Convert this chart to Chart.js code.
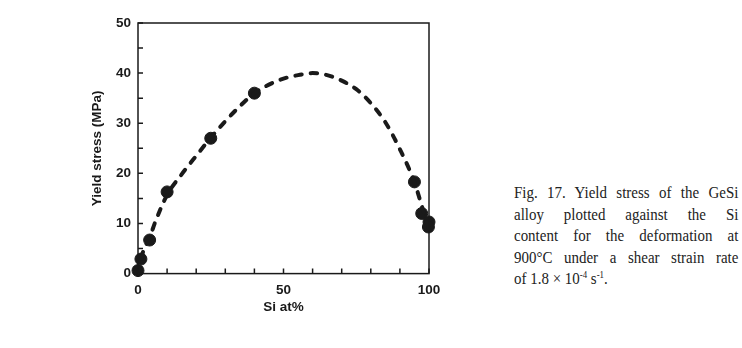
<!DOCTYPE html>
<html>
<head>
<meta charset="utf-8">
<script src="https://cdn.jsdelivr.net/npm/chart.js@4"></script>
<style>
  html, body { margin: 0; padding: 0; background: #fff; }
  #wrap { position: relative; width: 742px; height: 348px; overflow: hidden; }
  #chartBox { position: absolute; left: 0; top: 0; width: 480px; height: 348px; }
  #caption {
    position: absolute; left: 514px; top: 182px; width: 255px;
    transform: scaleX(0.88); transform-origin: left top;
    font-family: "Liberation Serif", "Times New Roman", serif;
    font-size: 17px; line-height: 21.5px; color: #222;
  }
  #caption div { text-align: justify; text-align-last: justify; }
  #caption div.last { text-align-last: left; }
  #caption sup { font-size: 10px; line-height: 0; vertical-align: 6px; }
</style>
</head>
<body>
<div id="wrap">
  <div id="chartBox"><canvas id="yieldChart" width="480" height="348"></canvas></div>
  <div id="caption">
    <div>Fig. 17. Yield stress of the GeSi</div>
    <div>alloy plotted against the Si</div>
    <div>content for the deformation at</div>
    <div>900°C under a shear strain rate</div>
    <div class="last">of 1.8 × 10<sup>-4</sup> s<sup>-1</sup>.</div>
  </div>
</div>
<script>
// data titik ukur (Si at%, MPa)
const siContent = [0, 1, 4, 10, 25, 40, 95, 97.5, 100, 99.8];
const yieldStress = [0.6, 2.9, 6.7, 16.3, 27, 36, 18.3, 12, 10.3, 9.3];

// kurva putus-putus
const curveX = [0, 1.5, 4, 6, 10, 15, 20, 25, 30, 35, 40, 45, 50, 55, 60, 65, 70, 75, 80, 85, 90, 95, 98, 100];
const curveY = [0, 3.9, 7.2, 10.4, 15.7, 19.8, 23.5, 27.1, 30.4, 33.4, 36, 37.7, 38.9, 39.6, 40, 39.6, 38.5, 36.8, 34, 30.2, 24.8, 18.2, 12.6, 9];

const xLabels = [0, 50, 100];
const xMinor = [10, 20, 30, 40, 60, 70, 80, 90];
const yLabels = [0, 10, 20, 30, 40, 50];
const yMinor = [5, 15, 25, 35, 45];

const ink = '#1a1a1a';
const axisFont = { family: 'Liberation Sans, Arial, sans-serif', size: 13.5, weight: 'bold' };

// bingkai + tick ke dalam
const frameTicks = {
    id: 'frameTicks',
    afterDatasetsDraw(chart) {
        const { ctx, chartArea: a, scales } = chart;
        ctx.save();
        ctx.strokeStyle = ink;
        ctx.lineWidth = 1.5;
        ctx.strokeRect(a.left, a.top, a.right - a.left, a.bottom - a.top);
        ctx.beginPath();
        xLabels.concat(xMinor).forEach(v => {
            const px = scales.x.getPixelForValue(v);
            ctx.moveTo(px, a.bottom);
            ctx.lineTo(px, a.bottom - 5);
        });
        yLabels.concat(yMinor).forEach(v => {
            const py = scales.y.getPixelForValue(v);
            ctx.moveTo(a.left, py);
            ctx.lineTo(a.left + 5, py);
        });
        ctx.stroke();
        ctx.restore();
    }
};

const ctx = document.getElementById('yieldChart').getContext('2d');
new Chart(ctx, {
    type: 'scatter',
    data: {
        datasets: [{
            label: 'Kurva',
            type: 'line',
            data: curveX.map((x, i) => ({ x: x, y: curveY[i] })),
            borderColor: ink,
            borderWidth: 4,
            borderDash: [6.5, 9],
            borderCapStyle: 'round',
            pointRadius: 0,
            fill: false,
            tension: 0.4,
            cubicInterpolationMode: 'monotone',
            clip: false
        }, {
            label: 'Data',
            data: siContent.map((x, i) => ({ x: x, y: yieldStress[i] })),
            backgroundColor: ink,
            borderColor: ink,
            pointRadius: 6,
            clip: false
        }]
    },
    options: {
        responsive: false,
        animation: false,
        devicePixelRatio: 1,
        layout: { padding: { left: 85, top: 23, right: 51, bottom: 33 } },
        plugins: { legend: { display: false }, tooltip: { enabled: false } },
        scales: {
            x: {
                type: 'linear', min: 0, max: 100,
                grid: { display: false, drawTicks: false },
                border: { display: false },
                afterBuildTicks: s => { s.ticks = xLabels.map(v => ({ value: v })); },
                ticks: { color: ink, font: axisFont, padding: 9, maxRotation: 0 },
                title: { display: true, text: 'Si at%', color: ink, font: axisFont, padding: { top: -9, bottom: 0 } }
            },
            y: {
                type: 'linear', min: 0, max: 50,
                grid: { display: false, drawTicks: false },
                border: { display: false },
                afterBuildTicks: s => { s.ticks = yLabels.map(v => ({ value: v })); },
                afterFit: s => { s.width = 53; },
                ticks: { color: ink, font: axisFont, padding: 7 },
                title: { display: true, text: 'Yield stress (MPa)', color: ink, font: axisFont, padding: { top: 4, bottom: 0 } }
            }
        }
    },
    plugins: [frameTicks]
});
</script>
</body>
</html>
